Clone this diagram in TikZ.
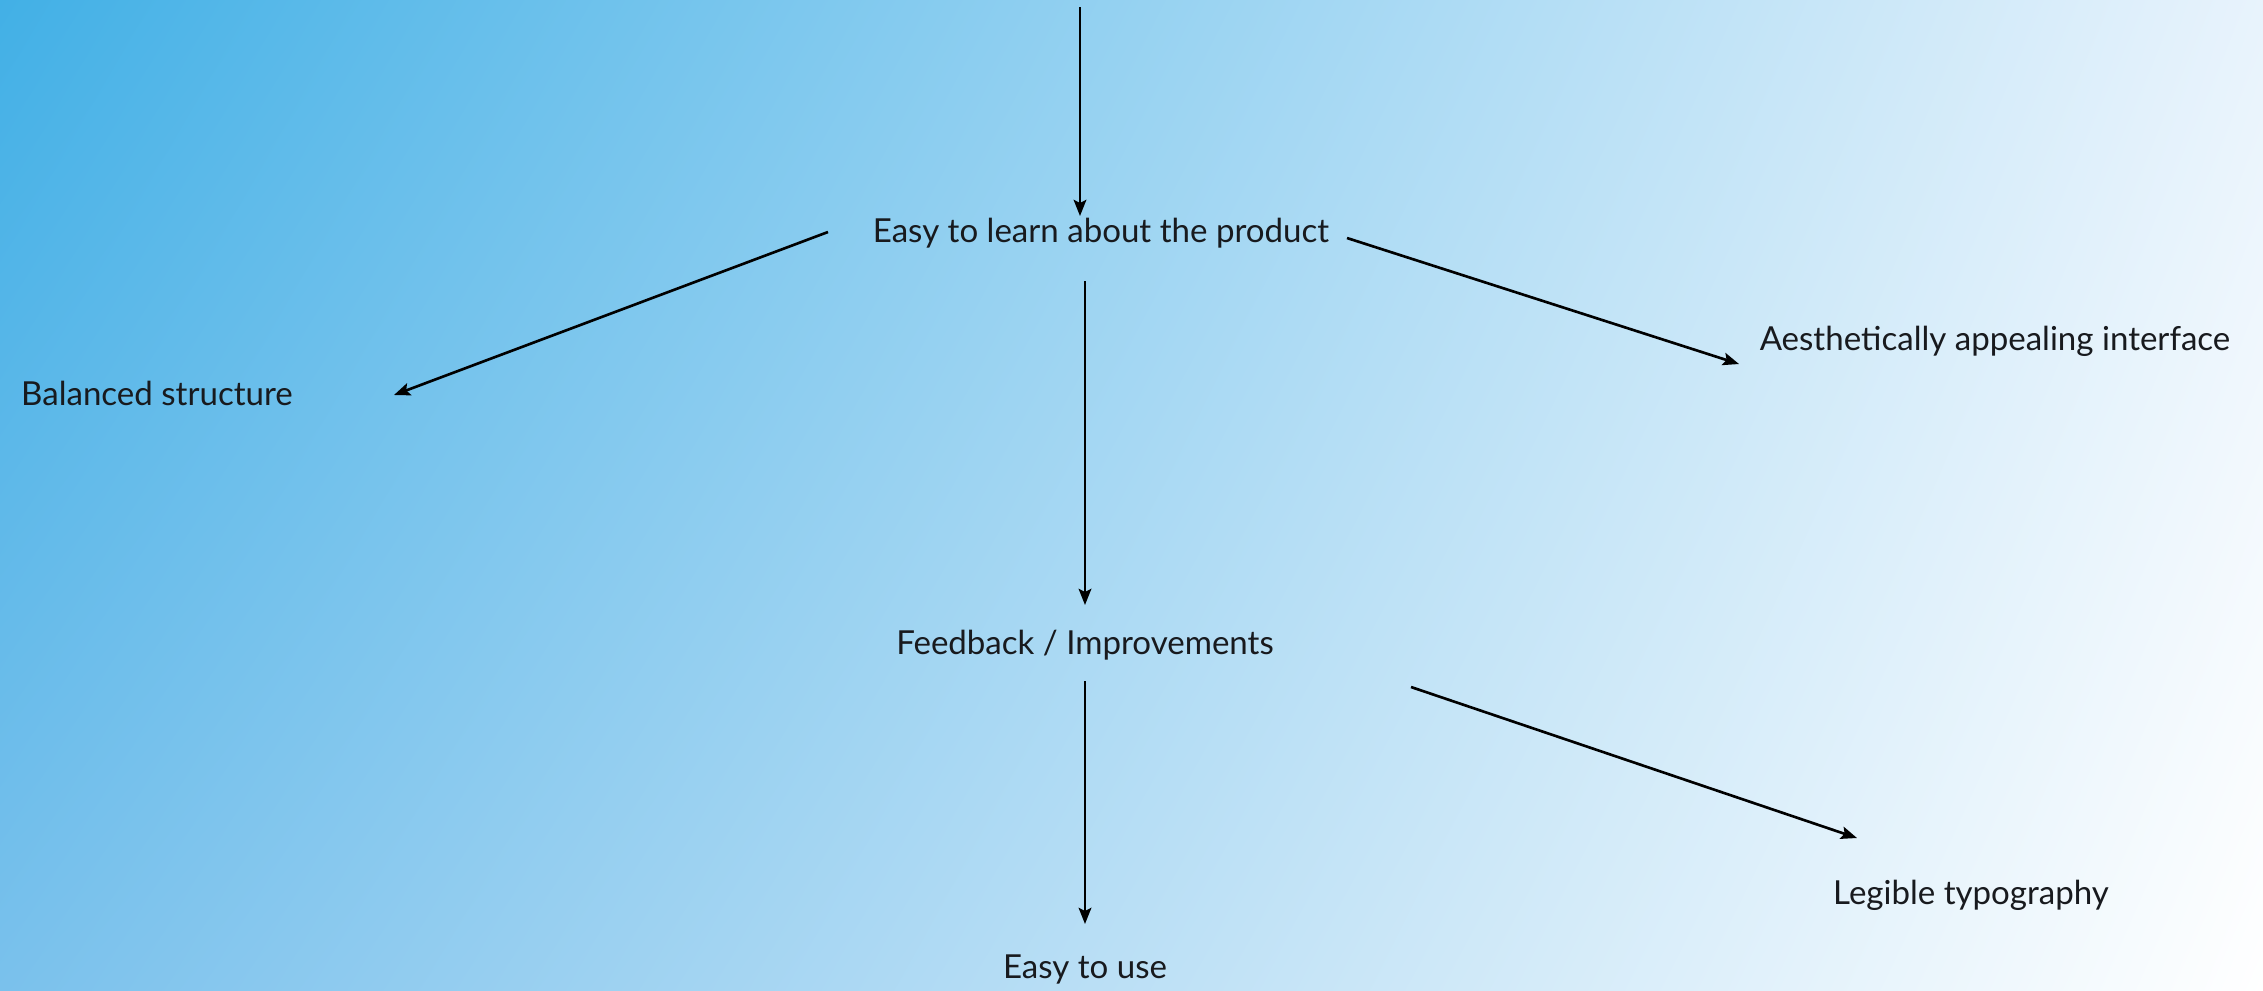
\documentclass[tikz,border=0pt]{standalone}
\usepackage{fontspec}
\setmainfont{Lato}
\usetikzlibrary{arrows.meta,calc,shadings}
\definecolor{bgTL}{RGB}{66,176,230}
\definecolor{bgTR}{RGB}{232,243,252}
\definecolor{bgBL}{RGB}{122,193,236}
\definecolor{ink}{RGB}{24,26,30}
\tikzset{>/.tip={Stealth[length=4.6pt,width=3.6pt,inset=0.9pt]},
  idea/.style={font=\fontsize{9.4}{11}\selectfont, text=ink, inner sep=1pt},
  link/.style={->, line width=0.75pt}}
\begin{document}
\begin{tikzpicture}[x=0.01cm, y=-0.01cm]
\useasboundingbox (0,0) rectangle (2263,990);
\shade[upper left=bgTL, upper right=bgTR, lower left=bgBL, lower right=white]
  (0,0) rectangle (2263,990);
\node[idea] (learn)    at (1101,233) {Easy to learn about the product};
\node[idea] (balanced) at (157,393)  {Balanced structure};
\node[idea] (appeal)   at (1995,341) {Aesthetically appealing interface};
\node[idea] (feedback) at (1085,645) {Feedback / Improvements};
\node[idea] (use)      at (1085,969) {Easy to use};
\node[idea] (legible)  at (1971,895) {Legible typography};
\coordinate (top) at (1080,7);
\draw[link] (top) -- ($(learn)+(-21,-17)$);
\draw[link] ($(learn)+(-273,-1)$) -- ($(balanced)+(237,2)$);
\draw[link] ($(learn)+(246,5)$) -- ($(appeal)+(-256,23)$);
\draw[link] ($(learn)+(-16,48)$) -- ($(feedback)+(0,-40)$);
\draw[link] ($(feedback)+(0,36)$) -- ($(use)+(0,-45)$);
\draw[link] ($(feedback)+(326,42)$) -- ($(legible)+(-114,-57)$);
\end{tikzpicture}
\end{document}
